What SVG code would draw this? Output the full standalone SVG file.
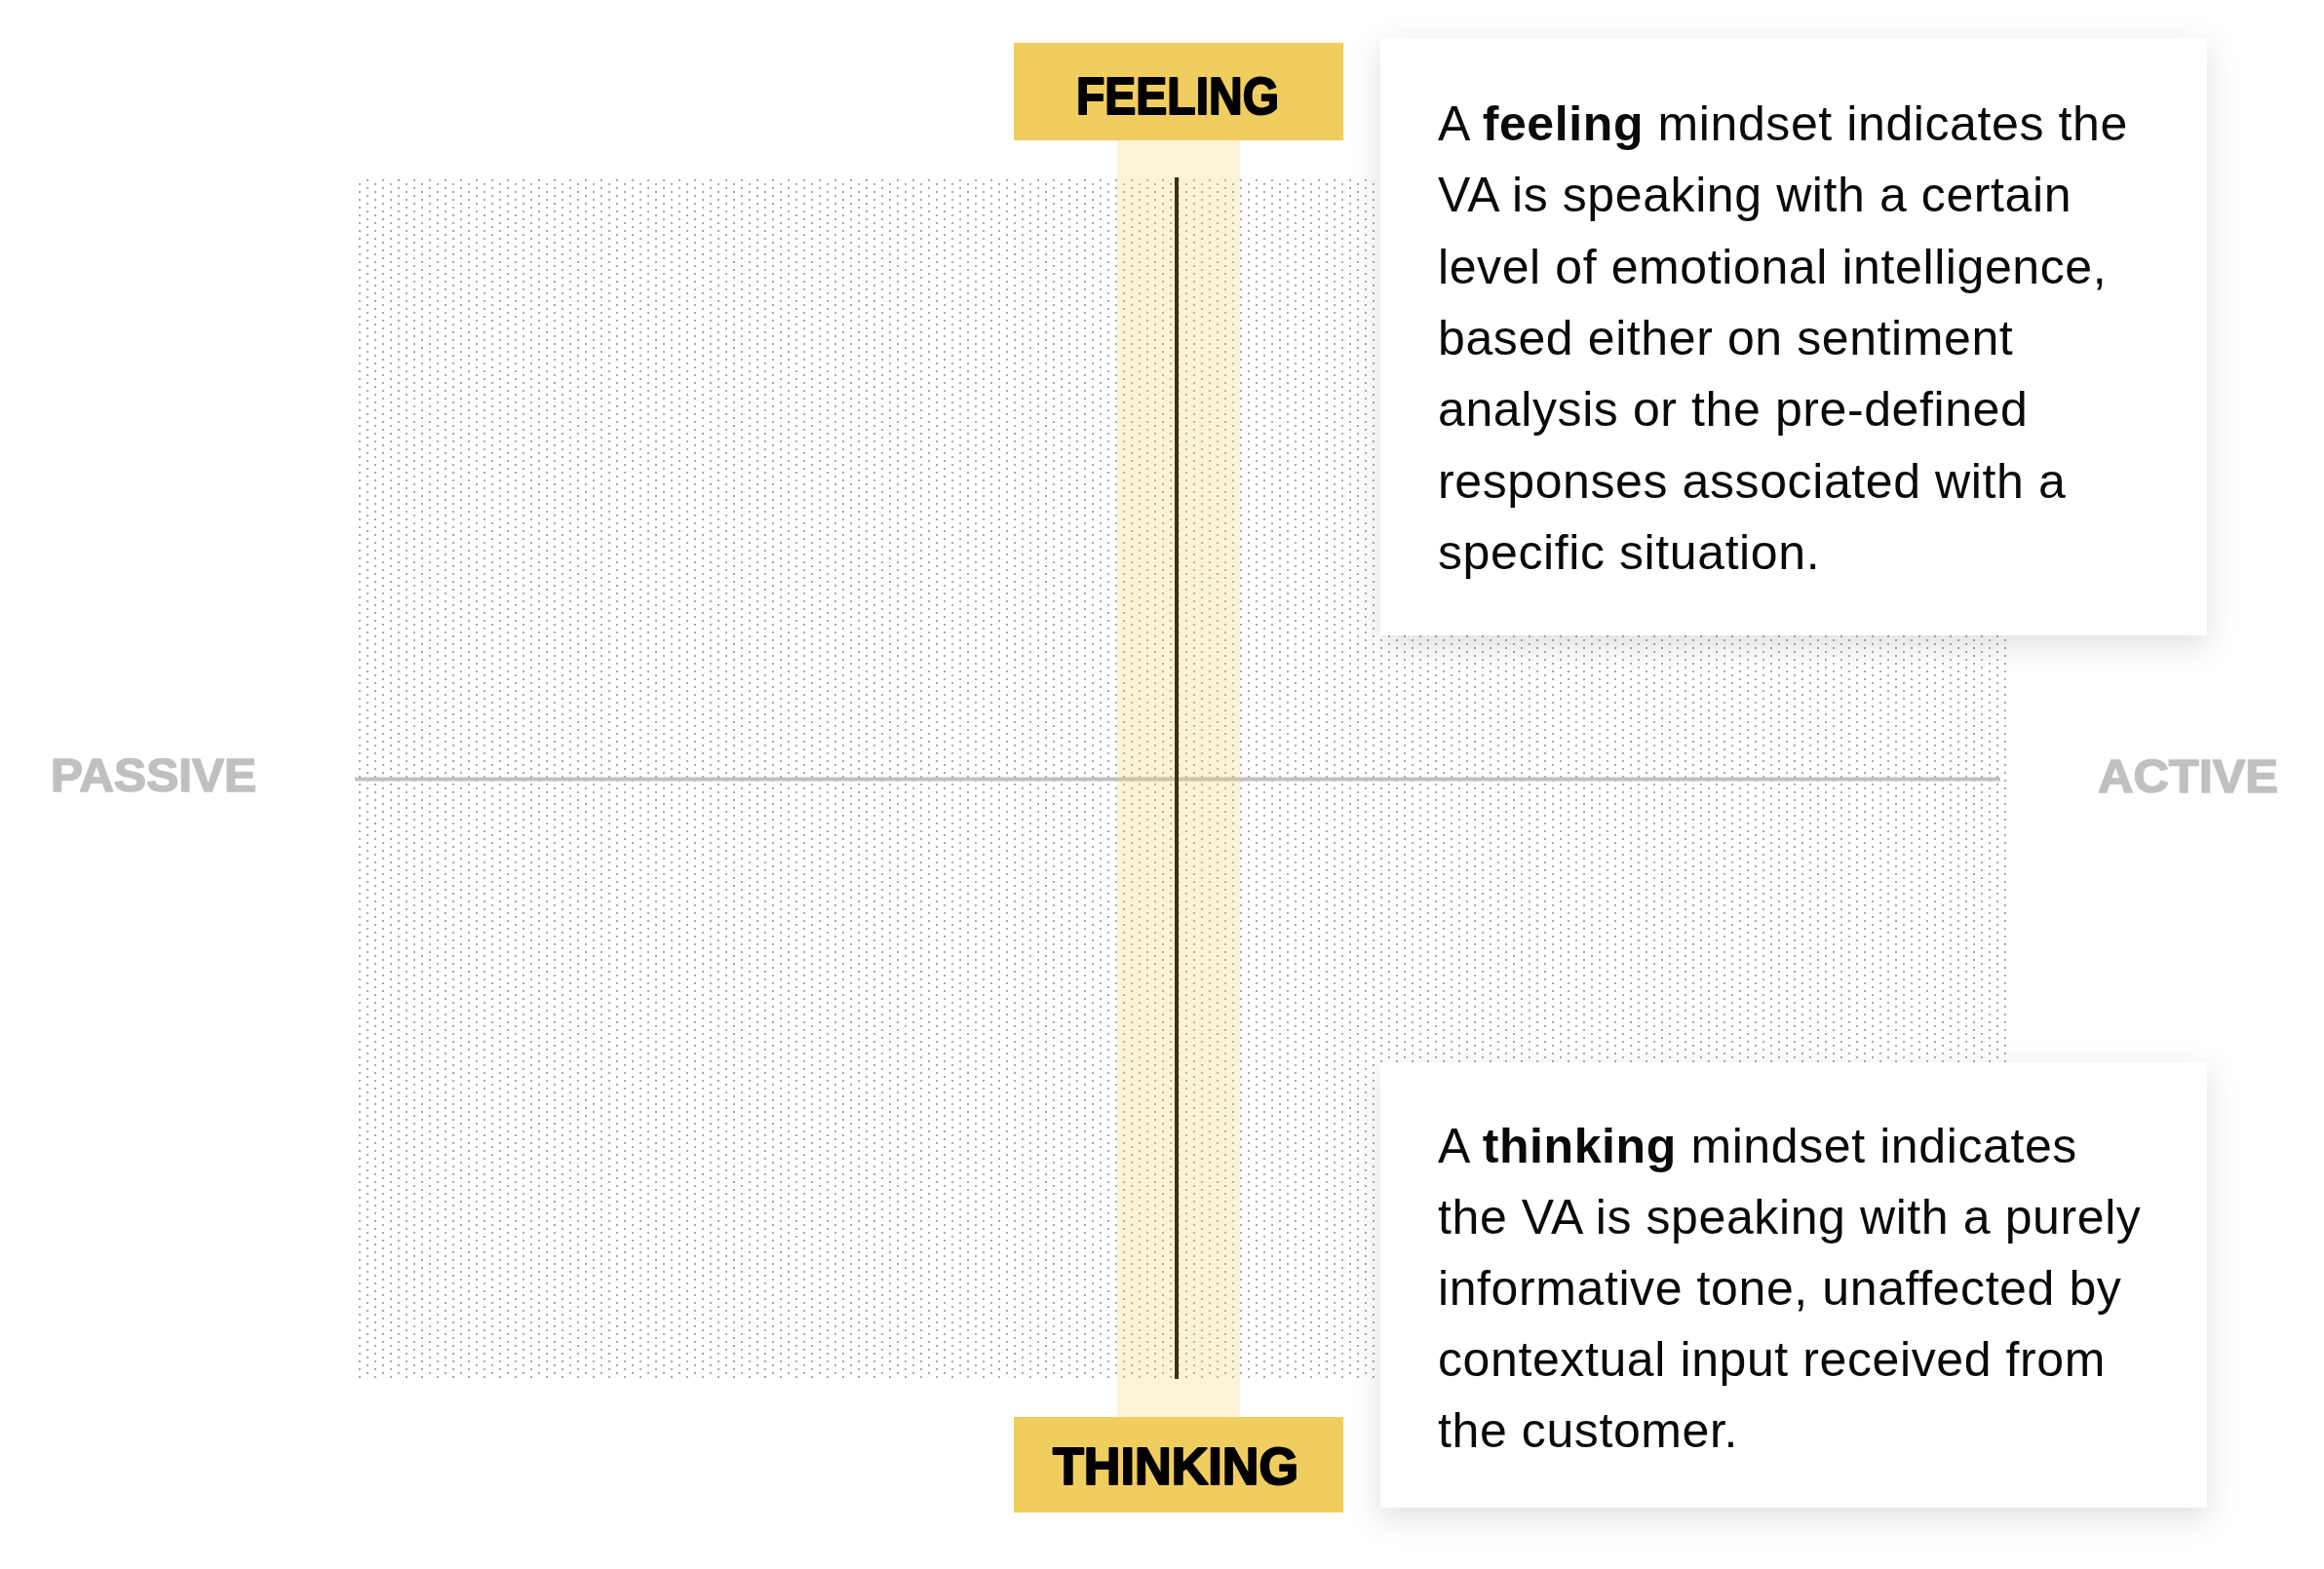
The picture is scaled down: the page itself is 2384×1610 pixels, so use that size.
<svg xmlns="http://www.w3.org/2000/svg" width="2384" height="1610" viewBox="0 0 2384 1610">
  <defs>
    <pattern id="dots" patternUnits="userSpaceOnUse" x="368" y="188" width="16" height="8">
      <rect x="0" y="0" width="2" height="2" fill="#a9a9a9"/>
      <rect x="8" y="4" width="2" height="2" fill="#a9a9a9"/>
    </pattern>
    <filter id="shadow" x="-10%" y="-10%" width="120%" height="125%">
      <feDropShadow dx="0" dy="10" stdDeviation="16" flood-color="#000" flood-opacity="0.13"/>
    </filter>
    <style>
      .axis { font-family: "Liberation Sans", Arial, sans-serif; font-weight: 700; font-size: 49px; fill: #c0c0c0; stroke: #c0c0c0; stroke-width: 1.6px; stroke-linejoin: round; }
      .tag { font-family: "Liberation Sans", Arial, sans-serif; font-weight: 700; font-size: 54px; fill: #000; stroke: #000; stroke-width: 2px; stroke-linejoin: round; text-anchor: middle; }
      .tagbox { fill: #f0cd5f; }
      .card { fill: #ffffff; filter: url(#shadow); }
      .body { font-family: "Liberation Sans", Arial, sans-serif; font-size: 50px; fill: #0a0a0a; letter-spacing: 0.6px; }
      .b { font-weight: 700; }
    </style>
  </defs>
  <rect width="2384" height="1610" fill="#ffffff"/>

  <g id="background">
    <rect x="364" y="183" width="1696" height="1232" fill="url(#dots)"/>
  </g>

  <g id="connectors">
    <line id="axis-h" x1="364" y1="799.5" x2="2052" y2="799.5" stroke="#c0c0c0" stroke-width="4"/>
    <rect id="band" x="1146" y="144" width="126" height="1310" fill="#f0cd5f" fill-opacity="0.25"/>
    <line id="axis-v" x1="1207" y1="182" x2="1207" y2="1415" stroke="#3a3119" stroke-width="4"/>
  </g>

  <g id="passive">
    <text class="axis" x="52" y="812" textLength="211" lengthAdjust="spacingAndGlyphs">PASSIVE</text>
  </g>
  <g id="active">
    <text class="axis" x="2152" y="813" textLength="185" lengthAdjust="spacingAndGlyphs">ACTIVE</text>
  </g>

  <g id="feeling">
    <rect class="tagbox" x="1040" y="44" width="338" height="100"/>
    <text class="tag" x="1208" y="117" textLength="208" lengthAdjust="spacingAndGlyphs">FEELING</text>
  </g>
  <g id="thinking">
    <rect class="tagbox" x="1040" y="1454" width="338" height="98"/>
    <text class="tag" x="1206" y="1523" textLength="252" lengthAdjust="spacingAndGlyphs">THINKING</text>
  </g>

  <g id="feeling-card">
    <rect class="card" x="1416" y="39" width="848" height="613"/>
    <text class="body" x="1475">
      <tspan x="1475" y="144">A <tspan class="b">feeling</tspan> mindset indicates the</tspan>
      <tspan x="1475" y="217.3">VA is speaking with a certain</tspan>
      <tspan x="1475" y="290.6">level of emotional intelligence,</tspan>
      <tspan x="1475" y="363.9">based either on sentiment</tspan>
      <tspan x="1475" y="437.2">analysis or the pre-defined</tspan>
      <tspan x="1475" y="510.5">responses associated with a</tspan>
      <tspan x="1475" y="583.8">specific situation.</tspan>
    </text>
  </g>

  <g id="thinking-card">
    <rect class="card" x="1416" y="1090" width="848" height="457"/>
    <text class="body" x="1475">
      <tspan x="1475" y="1193">A <tspan class="b">thinking</tspan> mindset indicates</tspan>
      <tspan x="1475" y="1266">the VA is speaking with a purely</tspan>
      <tspan x="1475" y="1339">informative tone, unaffected by</tspan>
      <tspan x="1475" y="1412">contextual input received from</tspan>
      <tspan x="1475" y="1485">the customer.</tspan>
    </text>
  </g>
</svg>
